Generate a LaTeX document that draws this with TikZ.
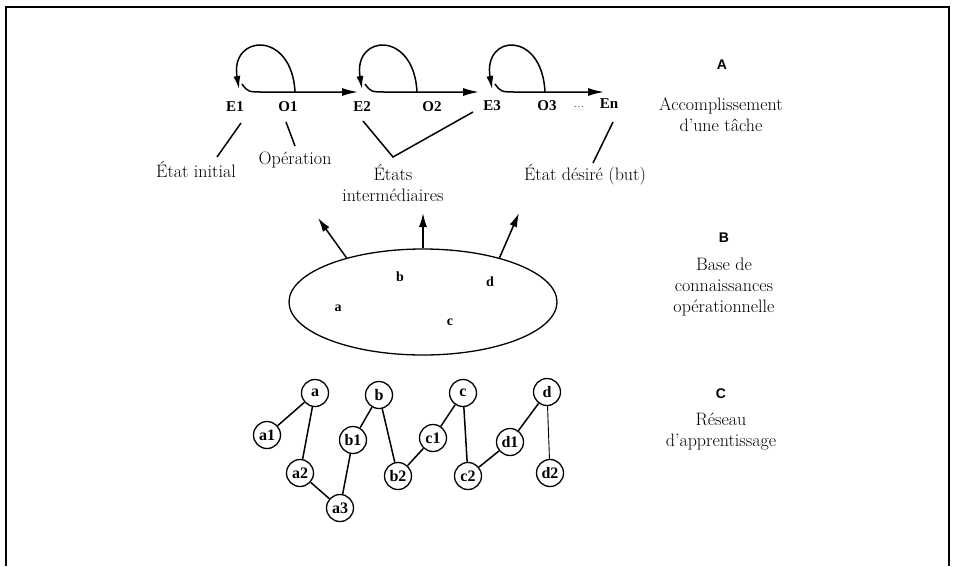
\documentclass[tikz,border=0pt]{standalone}
\usepackage{fontspec}
\newfontfamily\tnr{Liberation Serif}
\newfontfamily\lsans{Liberation Sans}
\usetikzlibrary{arrows.meta,shapes.geometric}
\begin{document}
\begin{tikzpicture}[x=1pt,y=-1pt,
  lbl/.style={font=\fontsize{18}{21}\selectfont, align=center, inner sep=0pt},
  st/.style={font=\tnr\bfseries\fontsize{15}{17}\selectfont, inner sep=0pt},
  sec/.style={font=\lsans\bfseries\fontsize{14}{16}\selectfont, inner sep=0pt},
  kl/.style={font=\tnr\bfseries\fontsize{14}{16}\selectfont, inner sep=0pt},
  nd/.style={circle, draw, line width=1.3pt, minimum size=27pt, inner sep=0pt,
    font=\tnr\bfseries\fontsize{16}{18}\selectfont},
  ln/.style={line width=1.5pt},
  looparr/.style={ln, -{Latex[length=13pt,width=7pt]}},
  harr/.style={ln, -{Latex[length=16pt,width=8pt]}},
  uparr/.style={ln, -{Latex[length=14pt,width=8pt]}}]
\useasboundingbox (0,0) rectangle (954,566);
% frame
\draw[line width=2pt] (6,566) -- (6,7) -- (949,7) -- (949,566);

% ---- A : task accomplishment ----
\node[st] (E1) at (235,107) {E1};
\node[st] (O1) at (288,107) {O1};
\node[st] (E2) at (362,107) {E2};
\node[st] (O2) at (432,107) {O2};
\node[st] (E3) at (492,106) {E3};
\node[st] (O3) at (547,106) {O3};
\node[font=\fontsize{10}{10}\selectfont, inner sep=0pt] (dots) at (579,107) {.\kern1pt.\kern1pt.};
\node[st] (En) at (609,104) {En};

\coordinate (f1) at (295,92);  \coordinate (h1) at (239,89);
\coordinate (f2) at (417,92);  \coordinate (h2) at (362,89);
\coordinate (f3) at (545,92);  \coordinate (h3) at (492,89);
\draw[looparr] (f1) .. controls (292,30) and (230,34) .. (h1);
\draw[looparr] (f2) .. controls (414,30) and (353,34) .. (h2);
\draw[looparr] (f3) .. controls (542,30) and (483,34) .. (h3);

\coordinate (s1) at (242,84); \coordinate (t1) at (358,92);
\coordinate (s2) at (365,84); \coordinate (t2) at (479,92);
\coordinate (s3) at (495,84); \coordinate (t3) at (604,92);
\draw[harr] (s1) .. controls (248,92) .. (264,92) -- (t1);
\draw[harr] (s2) .. controls (371,92) .. (387,92) -- (t2);
\draw[harr] (s3) .. controls (501,92) .. (517,92) -- (t3);

\node[lbl] (ei) at (196,170) {État initial};
\node[lbl] (op) at (295,160) {Opération};
\node[lbl] (eint) at (393,183) {États\\intermédiaires};
\node[lbl] (ed) at (585,175) {État désiré (but)};

\coordinate (e1a) at (241,123); \coordinate (e1b) at (217,157);
\coordinate (o1a) at (286,122); \coordinate (o1b) at (295,146);
\coordinate (v1) at (363,121); \coordinate (v2) at (393,157); \coordinate (v3) at (473,112);
\coordinate (ena) at (613,122); \coordinate (enb) at (593,163);
\draw[ln] (e1a) -- (e1b);
\draw[ln] (o1a) -- (o1b);
\draw[ln] (v1) -- (v2) -- (v3);
\draw[ln] (ena) -- (enb);

\node[sec] (A) at (722,65) {A};
\node[lbl] (acc) at (721,115) {Accomplissement\\d'une tâche};

% ---- B : knowledge base ----
\node[ellipse, draw, line width=1.3pt, minimum width=268pt, minimum height=106pt, inner sep=0pt] (kb) at (423,302) {};
\node[kl] (ka) at (338,308) {a};
\node[kl] (kbb) at (400,277) {b};
\node[kl] (kc) at (450,322) {c};
\node[kl] (kd) at (490,282) {d};
\coordinate (u1) at (318,218);
\coordinate (u2) at (423,213);
\coordinate (u3) at (519,213);
\draw[uparr] (kb.150) -- (u1);
\draw[uparr] (kb.90) -- (u2);
\draw[uparr] (kb.30) -- (u3);

\node[sec] (B) at (724,238) {B};
\node[lbl] (base) at (724,287) {Base de\\connaissances\\opérationnelle};

% ---- C : learning network ----
\node[nd] (a) at (315,393) {a};
\node[nd] (a1) at (267,435) {a1};
\node[nd] (a2) at (300,473) {a2};
\node[nd] (a3) at (340,508) {a3};
\node[nd] (b) at (379,395) {b};
\node[nd] (b1) at (353,440) {b1};
\node[nd] (b2) at (398,476) {b2};
\node[nd] (c) at (463,393) {c};
\node[nd] (c1) at (433,438) {c1};
\node[nd] (c2) at (468,476) {c2};
\node[nd] (d) at (547,392) {d};
\node[nd] (d1) at (510,442) {d1};
\node[nd] (d2) at (550,473) {d2};
\draw[ln] (a) -- (a1);
\draw[ln] (a) -- (a2);
\draw[ln] (a2) -- (a3);
\draw[ln] (a3) -- (b1);
\draw[ln] (b1) -- (b);
\draw[ln] (b) -- (b2);
\draw[ln] (b2) -- (c1);
\draw[ln] (c1) -- (c);
\draw[ln] (c) -- (c2);
\draw[ln] (c2) -- (d1);
\draw[ln] (d1) -- (d);
\draw[line width=0.9pt] (d) -- (d2);

\node[sec] (C) at (721,394) {C};
\node[lbl] (res) at (721,432) {Réseau\\d'apprentissage};
\end{tikzpicture}
\end{document}
